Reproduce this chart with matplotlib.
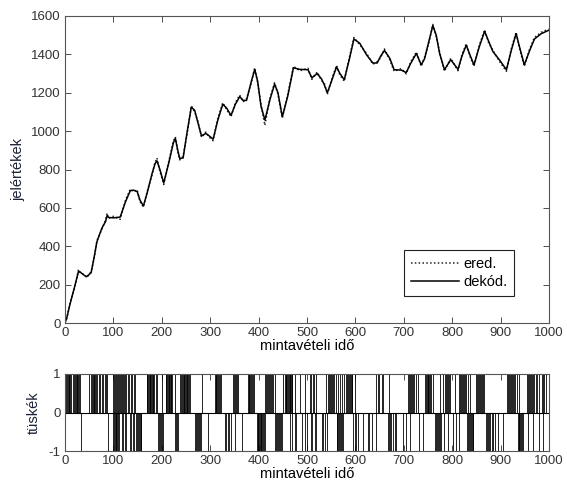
import matplotlib
matplotlib.use("Agg")
import matplotlib.pyplot as plt

plt.rcParams['font.family'] = ['Liberation Sans', 'DejaVu Sans']
plt.rcParams['axes.unicode_minus'] = False

# ---- data ----
t_dek = [0, 4, 10, 20, 28, 33, 40, 45, 54, 60, 66, 76, 84, 87, 90, 100, 114, 125, 135, 142,
         149, 155, 162, 170, 180, 186, 190, 196, 204, 214, 224, 228, 233, 237, 244, 252, 261, 268,
         275, 282, 291, 298, 306, 316, 326, 334, 343, 352, 361, 368, 375, 384, 392, 398, 405, 413,
         423, 433, 440, 449, 460, 472, 485, 502, 510, 521, 530, 536, 542, 552, 561, 568, 577, 587,
         597, 609, 623, 636, 645, 652, 660, 671, 680, 695, 705, 714, 726, 736, 743, 752, 760, 767,
         774, 784, 797, 812, 820, 829, 837, 845, 856, 867, 875, 884, 898, 912, 922, 932, 940, 949,
         960, 970, 984, 999]
v_dek = [0, 30, 95, 190, 270, 262, 248, 242, 262, 340, 424, 493, 530, 560, 550, 548, 552, 632, 690, 692,
         686, 640, 610, 680, 780, 830, 845, 800, 730, 830, 940, 962, 900, 858, 860, 990, 1125, 1108,
         1040, 975, 988, 975, 958, 1060, 1140, 1120, 1082, 1140, 1180, 1160, 1160, 1250, 1322, 1260, 1130, 1058,
         1160, 1245, 1200, 1075, 1180, 1330, 1322, 1320, 1278, 1300, 1272, 1240, 1200, 1270, 1335, 1300, 1268, 1370,
         1480, 1458, 1398, 1355, 1355, 1390, 1420, 1380, 1320, 1318, 1305, 1352, 1405, 1345, 1378, 1470, 1550, 1500,
         1405, 1320, 1372, 1322, 1390, 1448, 1395, 1345, 1440, 1520, 1470, 1415, 1370, 1320, 1420, 1508, 1430, 1345,
         1420, 1480, 1508, 1525]
v_ered = [0, 25, 100, 185, 278, 258, 252, 236, 268, 335, 430, 488, 538, 572, 545, 556, 540, 640, 698, 684,
          694, 632, 604, 688, 772, 838, 860, 792, 722, 838, 948, 970, 892, 850, 868, 982, 1132, 1100,
          1048, 968, 995, 968, 950, 1068, 1148, 1112, 1075, 1148, 1188, 1152, 1168, 1242, 1330, 1252, 1138, 1030,
          1168, 1252, 1192, 1068, 1188, 1338, 1314, 1328, 1270, 1308, 1264, 1248, 1192, 1278, 1342, 1292, 1260, 1378,
          1488, 1450, 1406, 1348, 1362, 1382, 1428, 1372, 1312, 1326, 1298, 1360, 1412, 1338, 1386, 1462, 1556, 1492,
          1412, 1312, 1380, 1315, 1398, 1455, 1388, 1338, 1448, 1528, 1462, 1422, 1362, 1312, 1428, 1515, 1422, 1338,
          1428, 1488, 1515, 1532]

pos_spikes = [2, 4, 6, 8, 9, 11, 13, 16, 19, 20, 22, 24, 25, 27, 28, 30,
              50, 53, 55, 57, 59, 60, 62, 64, 67, 70, 73, 76, 79, 83, 85, 87,
              100, 102, 104, 106, 108, 110, 112, 114, 116, 118, 120, 122, 124, 127, 130, 133, 136, 139, 142, 145,
              169, 170, 172, 173, 175, 176, 178, 179, 181, 182, 184, 187, 190, 200, 208, 209, 211, 212, 214, 215,
              217, 218, 220, 222, 227,
              238, 240, 241, 243, 245, 246, 248, 250, 252, 253, 255, 257, 259, 283,
              310, 312, 313, 315, 317, 318, 320, 322, 347, 349, 351, 353, 355, 357,
              378, 380, 381, 383, 385, 387, 389, 391, 413, 415, 417, 419, 421, 423, 425, 427, 430, 433, 451, 454,
              456, 457, 459, 460, 462, 464, 465, 467, 468, 470, 475, 485, 495,
              506, 509, 512, 515, 519, 540, 543, 545, 547, 549, 551, 553, 556, 560, 564, 568, 572, 576,
              580, 582, 584, 586, 588, 590, 592, 594, 599,
              643, 646, 649, 654, 658, 669, 709, 711, 713, 715, 717, 719, 721, 725, 729,
              743, 745, 747, 749, 751, 753, 755, 757, 760, 774, 780,
              785, 787, 789, 791, 793, 796, 805, 815, 817, 819, 821, 823, 825, 827, 829, 833, 837,
              850, 852, 854, 856, 858, 860, 862, 864, 866,
              914, 916, 918, 920, 922, 924, 926, 928, 930, 933, 937,
              955, 957, 959, 961, 963, 965, 967, 970, 973, 976, 980, 985, 988, 990, 993]
neg_spikes = [34, 89, 100, 102, 103, 105, 106, 108, 110, 112, 117, 120, 124, 127, 134, 137, 140, 143, 146,
              148, 150, 152, 154, 156, 158,
              193, 195, 196, 198, 200, 202, 228, 230, 232, 234,
              268, 270, 272, 274, 276, 278, 282, 296, 330, 333, 336, 339, 342, 351, 365,
              396, 398, 399, 401, 402, 404, 405, 407, 409, 411, 413, 434, 436, 438, 440, 442, 444, 446, 448,
              464, 468, 475, 478, 489, 495, 499, 508, 511, 516, 519, 530, 533, 537, 541,
              561, 563, 565, 567, 569, 571, 573, 575, 596, 599, 602, 605, 616, 626, 629, 635, 643,
              667, 669, 671, 673, 677, 681, 684, 698, 705, 713, 731, 740,
              764, 766, 768, 770, 772, 774, 776, 784, 791, 801, 808, 815,
              830, 832, 834, 836, 838, 840, 842, 844,
              870, 872, 874, 876, 879, 882, 885, 888, 894, 905,
              935, 937, 939, 941, 943, 945, 947, 956, 967, 980, 987]

x_ticks = list(range(0, 1001, 100))
y_ticks_top = list(range(0, 1601, 200))
y_ticks_bot = [-1, 0, 1]

# ---- figure ----
W, H = 567, 488
fig = plt.figure(figsize=(W / 100, H / 100), dpi=100)

def frac(l, t, r, b):
    return [l / W, 1 - b / H, (r - l) / W, (b - t) / H]

tick_col = '#333333'
label_col = '#1c2236'

ax1 = fig.add_axes(frac(65, 16, 549, 323))
ax1.plot(t_dek, v_ered, linestyle=(0, (1, 1.5)), color='#222222', lw=1.1, label='ered.')
ax1.plot(t_dek, v_dek, linestyle='-', color='black', lw=1.1, label='dekód.')
ax1.set_xlim(0, 1000)
ax1.set_ylim(0, 1600)
ax1.set_xticks(x_ticks)
ax1.set_yticks(y_ticks_top)
ax1.set_xlabel('mintavételi idő', fontsize=10.5, labelpad=0, color='black')
ax1.set_ylabel('jelértékek', fontsize=10.5, labelpad=4, color=label_col)
leg = ax1.legend(loc='lower right', bbox_to_anchor=(0.928, 0.088), fontsize=10.5,
                 frameon=True, fancybox=False, edgecolor='#222222', framealpha=1,
                 handlelength=3.3, handletextpad=0.3, borderpad=0.45, labelspacing=0.3,
                 borderaxespad=0)
leg.get_frame().set_linewidth(0.8)

ax2 = fig.add_axes(frac(65, 374, 549, 451))
ax2.vlines(pos_spikes, 0, 1, color='black', lw=0.6)
ax2.vlines(neg_spikes, -1, 0, color='black', lw=0.6)
ax2.axhline(0, color='black', lw=0.8)
ax2.set_xlim(0, 1000)
ax2.set_ylim(-1, 1)
ax2.set_xticks(x_ticks)
ax2.set_yticks(y_ticks_bot)
ax2.set_xlabel('mintavételi idő', fontsize=10.5, labelpad=0, color='black')
ax2.set_ylabel('tüskék', fontsize=10.5, labelpad=6, color=label_col)

for ax in (ax1, ax2):
    ax.tick_params(direction='in', top=True, right=True, length=4, width=0.6,
                   labelsize=9.5, colors=tick_col, pad=3)
    for s in ax.spines.values():
        s.set_color('#555555')
        s.set_linewidth(0.8)

fig.savefig('out.png', dpi=100)
